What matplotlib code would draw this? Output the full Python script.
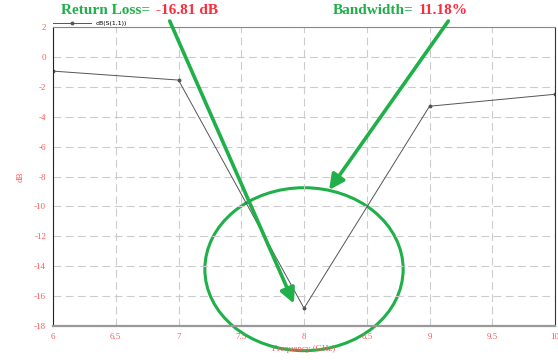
import matplotlib.pyplot as plt
from matplotlib.patches import Ellipse

plt.rcParams["axes.unicode_minus"] = False

freq_ghz = [6, 7, 8, 9, 10]
s11_db = [-0.95, -1.55, -16.81, -3.3, -2.5]
x_ticks = [6, 6.5, 7, 7.5, 8, 8.5, 9, 9.5, 10]
x_tick_labels = ["6", "6.5", "7", "7.5", "8", "8.5", "9", "9.5", "10"]
y_ticks = [2, 0, -2, -4, -6, -8, -10, -12, -14, -16, -18]

GREEN = "#1fb04a"
RED = "#ff2a3a"
TICK_RED = "#ff5a5a"

fig = plt.figure(figsize=(5.58, 3.6), dpi=100)
ax = fig.add_axes([53 / 558, 1 - 326 / 360, (555 - 53) / 558, (326 - 27) / 360])

ax.plot(freq_ghz, s11_db, color="#555555", linewidth=0.7, marker="o", markersize=1.8,
        label="dB(S(1,1))")
ax.set_xlim(6, 10)
ax.set_ylim(-18, 2)
ax.set_xticks(x_ticks)
ax.set_xticklabels(x_tick_labels)
ax.set_yticks(y_ticks)
ax.tick_params(axis="both", length=0, labelsize=6.5, labelcolor=TICK_RED, pad=5)
for lbl in ax.get_xticklabels() + ax.get_yticklabels():
    lbl.set_family("Liberation Serif")
ax.grid(color="#cccccc", linestyle=(0, (7, 4)), linewidth=0.8)
ax.set_xlabel("Frequency (GHz)", color=TICK_RED, fontsize=6.5, family="Liberation Serif", labelpad=3)
ax.set_ylabel("dB", color=TICK_RED, fontsize=6.5, family="Liberation Serif", labelpad=7)
ax.spines["left"].set_color("#222222")
ax.spines["right"].set_color("#333333")
ax.spines["top"].set_color("#888888")
ax.spines["bottom"].set_color("#999999")
ax.spines["bottom"].set_linewidth(1.6)

ax.legend(loc="lower left", bbox_to_anchor=(0.0, 1.003), frameon=False, fontsize=4.5,
          handlelength=6, borderpad=0, handletextpad=0.8, borderaxespad=0, markerscale=1.0,
          numpoints=1)

# annotations
ax.add_patch(Ellipse((8.0, -14.2), 1.58, 10.9, fill=False, edgecolor=GREEN,
                     linewidth=2.2, clip_on=False))
arrow_kw = dict(arrowstyle="-|>,head_length=0.9,head_width=0.45", color=GREEN, lw=2.6,
                shrinkA=0, shrinkB=0)
ax.annotate("", xy=(7.92, -16.5), xytext=(6.93, 2.4), annotation_clip=False, arrowprops=arrow_kw)
ax.annotate("", xy=(8.2, -8.9), xytext=(9.15, 2.4), annotation_clip=False, arrowprops=arrow_kw)

title_kw = dict(fontsize=11, fontweight="bold", family="Liberation Serif", va="center")
fig.text(61 / 558, 1 - 11 / 360, "Return Loss=", color=GREEN, ha="left", **title_kw)
fig.text(156 / 558, 1 - 11 / 360, "-16.81 dB", color=RED, ha="left", **title_kw)
fig.text(333 / 558, 1 - 11 / 360, "Bandwidth=", color=GREEN, ha="left", **title_kw)
fig.text(419 / 558, 1 - 11 / 360, "11.18%", color=RED, ha="left", **title_kw)

fig.savefig("out.png", dpi=100)
